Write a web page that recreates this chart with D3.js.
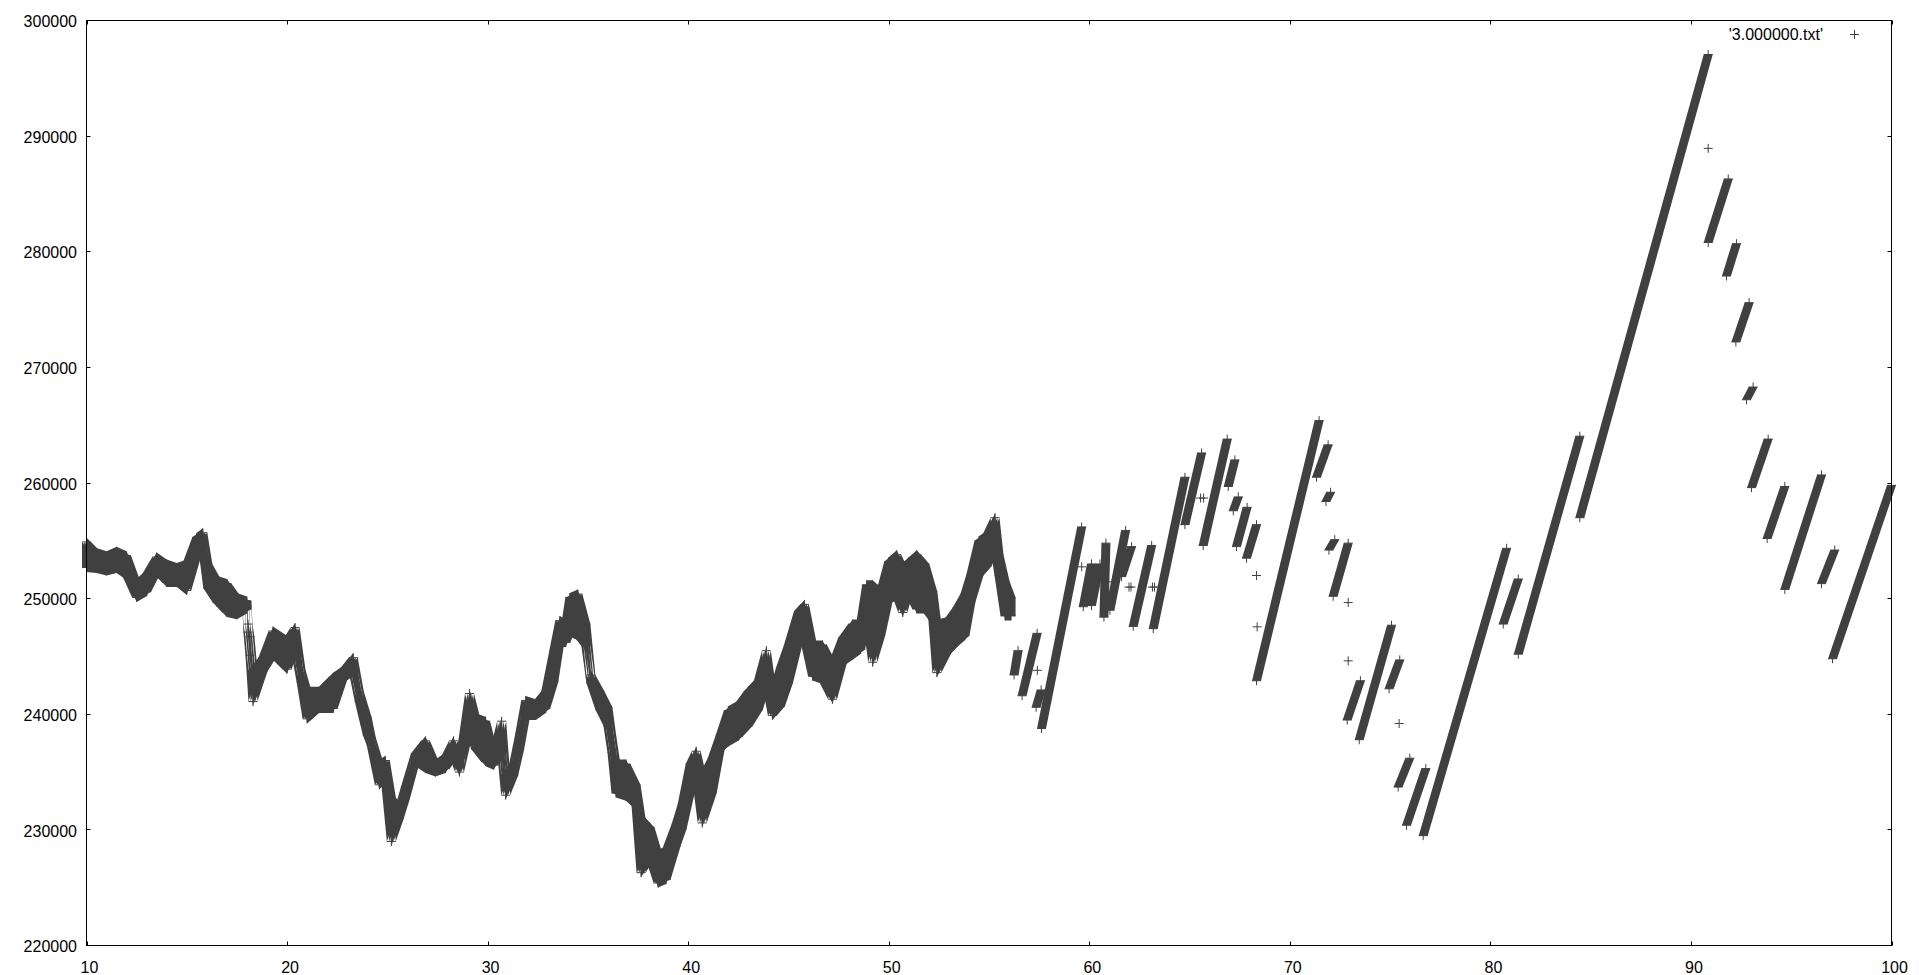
<!DOCTYPE html>
<html>
<head>
<meta charset="utf-8">
<script src="https://cdn.jsdelivr.net/npm/d3@7"></script>
<style>
  html, body { margin: 0; padding: 0; background: #fff; }
  svg { display: block; }
  text { font-family: "Liberation Sans", Arial, sans-serif; font-size: 16px; fill: #000; }
</style>
</head>
<body>
<svg id="chart" width="1919" height="975"></svg>
<script>
// ---- data ----
// noisy part: x position, upper and lower extent of the point cloud
const bandX  = [10.0,10.5,11.0,11.5,12.0,12.5,13.0,13.5,14.0,14.5,15.0,15.5,15.8,16.05,16.5,17.0,17.5,18.0,18.05,18.15,18.3,18.8,19.3,20.0,20.4,20.7,21.0,21.6,22.3,22.8,23.3,23.6,24.0,24.2,24.6,24.9,25.2,25.6,25.9,26.4,26.9,27.4,27.9,28.3,28.6,29.1,29.4,29.9,30.3,30.7,30.9,31.3,31.6,31.9,32.4,32.9,33.3,33.6,33.9,34.1,34.5,34.9,35.15,35.6,36.0,36.2,36.4,36.9,37.4,37.65,38.1,38.5,38.9,39.4,39.7,40.1,40.4,40.7,41.2,41.6,42.0,42.5,43.0,43.5,43.9,44.2,44.6,45.0,45.5,45.8,46.2,46.7,47.2,47.7,48.2,48.6,48.9,49.2,49.6,50.0,50.4,50.7,51.0,51.4,51.8,52.2,52.4,52.9,53.4,53.8,54.1,54.5,54.9,55.3,55.5,55.8,56.1];
const bandHi = [254900,254000,253700,254100,253700,251300,252100,253600,253000,252700,253000,255300,255700,253000,251600,251300,250100,249800,247800,246700,243800,244900,247200,246400,247500,243800,242000,242000,243200,243800,244900,242000,239700,238000,235700,236000,232800,231900,233700,236600,237700,235700,236300,237700,235700,241800,239700,239400,236600,239400,234800,235700,238300,241200,240900,242000,245500,248100,247800,250100,250400,247800,243400,242000,240600,238000,235700,235700,233900,231000,230200,227900,228200,230500,232200,235700,236800,234500,236200,238200,240300,240800,242000,242900,245500,241700,244000,246000,248900,249500,246000,246000,244300,246600,247800,247800,251200,251200,250600,253200,253800,252700,253200,253800,253000,250600,247800,248000,249200,250400,252100,255000,255500,257000,253800,251500,250100];
const bandLo = [252700,252600,252400,252600,252000,250100,250600,252300,251400,251400,250700,253700,254300,250900,249700,248800,248600,249100,247100,245100,241100,243700,245100,243900,245700,242800,239600,240500,240500,243100,243700,241100,238200,237300,233900,234400,229000,231000,232700,235900,235300,235000,235300,236400,235000,238800,237000,235900,235600,236700,233000,234700,237000,239900,239900,240500,242800,246200,246200,247100,246800,245900,242700,240400,239000,236700,233200,232900,232100,226300,227500,225400,225700,228600,230100,233200,234700,230600,233200,237000,237600,238100,239000,240400,242700,239900,240700,242700,246200,246500,243300,243000,241300,244500,245100,245600,248500,244500,246800,250000,250200,248800,250500,249100,249100,248200,243600,245300,246200,246800,249700,252000,252800,254300,252000,248500,248500];

// ramp part: runs of points lying on straight rising lines (start x, start y, end x, end y)
const rampX0 = [56.25,56.65,57.35,57.62,59.70,60.11,60.73,61.03,61.61,62.19,63.19,64.77,65.68,66.93,67.18,67.34,67.84,68.34,71.33,71.80,71.95,72.16,72.86,73.46,74.95,75.40,75.82,76.65,80.64,81.39,84.46,90.86,91.77,92.24,92.77,93.02,93.80,94.68,96.51,97.06];
const rampY0 = [243400,241600,240600,238770,249300,249400,248400,249000,251900,247600,247400,256400,254600,259700,257600,254500,253500,242900,260500,258400,254200,250200,239500,237800,242200,233700,230400,229500,247800,245200,257000,280800,277900,272200,267200,259600,255200,250800,251300,244800];
const rampX1 = [56.45,57.40,57.60,59.62,60.11,60.53,60.83,61.81,62.11,63.11,64.77,65.60,66.88,67.26,67.43,67.87,68.34,71.46,71.91,72.03,72.24,72.91,73.52,75.07,75.48,75.98,76.78,80.81,81.39,84.46,90.86,91.86,92.27,92.90,93.10,93.85,94.68,96.51,97.17,100.0];
const rampY1 = [245500,247000,242100,256200,253000,253000,254800,255900,254500,254600,260500,262600,263800,262000,258800,257900,256400,265400,263300,259200,255100,254800,242900,247700,244700,236200,235300,254350,251700,264050,297060,286300,280700,275600,268300,263800,259700,260700,254200,259800];

// isolated points
const dotX = [57.41,59.62,60.95,61.98,62.08,63.15,63.25,65.55,65.70,68.34,68.37,72.91,72.91,75.45,90.86];
const dotY = [243800,252750,251450,251000,251000,251000,251000,258700,258700,252000,247560,249660,244620,239200,288940];

const xTicks = [10,20,30,40,50,60,70,80,90,100];
const yTicks = [220000,230000,240000,250000,260000,270000,280000,290000,300000];
const legendLabel = "'3.000000.txt'";

// ---- drawing ----
const svg = d3.select("#chart");
const L = 86.5, R = 1891.5, T = 20.5, B = 945.5;
const H = 4.5;             // half size of the '+' marker in px
const ink = "#404040";

const x = d3.scaleLinear().domain([10, 100]).range([L, R]);
const y = d3.scaleLinear().domain([220000, 300000]).range([B, T]);

const plot = svg.append("g");

// noisy cloud
const band = bandX.map((t, i) => ({ t, hi: bandHi[i], lo: bandLo[i] }));
const areaV = d3.area().x(d => x(d.t)).y0(d => y(d.lo) + H).y1(d => y(d.hi) - H);
const areaC = d3.area().x(d => x(d.t)).y0(d => y(d.lo)).y1(d => y(d.hi));
plot.append("path").attr("d", areaV(band)).attr("fill", ink);
[-H, -H / 2, H / 2, H].forEach(dx => {
  plot.append("path").attr("d", areaC(band)).attr("fill", ink)
    .attr("transform", `translate(${dx},0)`);
});

// ramps
const ramps = rampX0.map((t, i) => [{ t, v: rampY0[i] }, { t: rampX1[i], v: rampY1[i] }]);
const sweep = d3.area().y(d => y(d.v)).x0(d => x(d.t) - H).x1(d => x(d.t) + H);
plot.selectAll("path.ramp").data(ramps).join("path")
  .attr("class", "ramp").attr("d", d => sweep(d)).attr("fill", ink);

// '+' markers
const plus = `M${-H},0H${H}M0,${-H}V${H}`;
const markPts = [];
band.forEach(d => { markPts.push([d.t, d.hi]); markPts.push([d.t, d.lo]); });
ramps.forEach(r => { markPts.push([r[0].t, r[0].v]); markPts.push([r[1].t, r[1].v]); });
dotX.forEach((t, i) => markPts.push([t, dotY[i]]));
plot.selectAll("path.mk").data(markPts).join("path")
  .attr("class", "mk")
  .attr("transform", d => `translate(${x(d[0])},${y(d[1])})`)
  .attr("d", plus).attr("stroke", ink).attr("stroke-width", 1).attr("fill", "none");

// axes (gnuplot style: inward ticks mirrored on all sides)
const ax = svg.append("g").attr("stroke", "#000").attr("stroke-width", 1).attr("fill", "none");
ax.append("rect").attr("x", L).attr("y", T).attr("width", R - L).attr("height", B - T);
xTicks.forEach(v => {
  const px = Math.round(x(v)) + 0.5;
  ax.append("line").attr("x1", px).attr("x2", px).attr("y1", B).attr("y2", B - 4);
  ax.append("line").attr("x1", px).attr("x2", px).attr("y1", T).attr("y2", T + 4);
});
yTicks.forEach(v => {
  const py = Math.round(y(v) - 0.5) + 0.5;
  ax.append("line").attr("x1", L).attr("x2", L + 4).attr("y1", py).attr("y2", py);
  ax.append("line").attr("x1", R).attr("x2", R - 4).attr("y1", py).attr("y2", py);
});

svg.append("g").selectAll("text").data(yTicks).join("text")
  .attr("x", 77).attr("y", d => y(d) + 6.7).attr("text-anchor", "end").text(d => d);
svg.append("g").selectAll("text").data(xTicks).join("text")
  .attr("x", d => x(d) + 3).attr("y", 973).attr("text-anchor", "middle").text(d => d);

// legend
svg.append("text").attr("x", 1823).attr("y", 40).attr("text-anchor", "end").text(legendLabel);
svg.append("path").attr("transform", "translate(1854.5,34.5)").attr("d", plus)
  .attr("stroke", ink).attr("stroke-width", 1).attr("fill", "none");
</script>
</body>
</html>
